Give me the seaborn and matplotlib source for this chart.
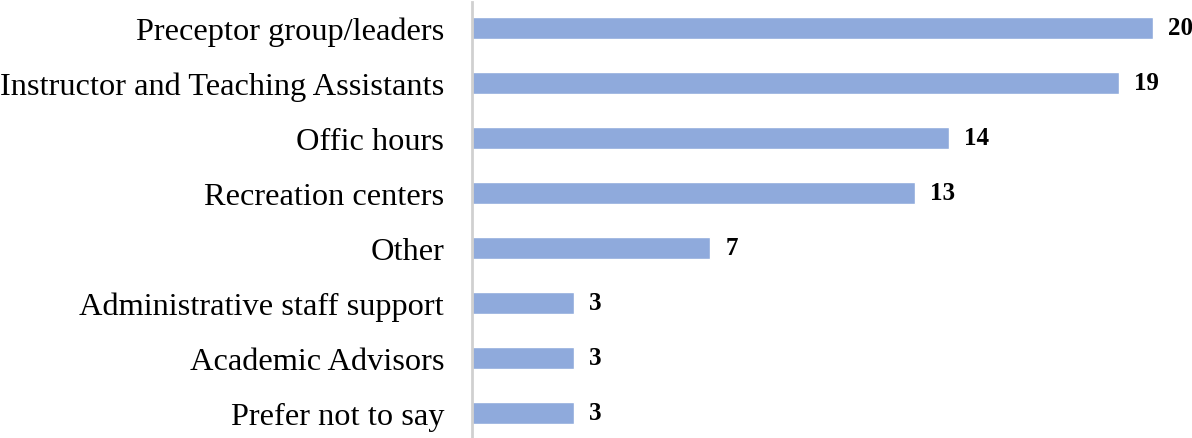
import matplotlib
matplotlib.use("Agg")
import matplotlib.pyplot as plt
import seaborn as sns
import pandas as pd

categories = [
    "Preceptor group/leaders",
    "Instructor and Teaching Assistants",
    "Offic hours",
    "Recreation centers",
    "Other",
    "Administrative staff support",
    "Academic Advisors",
    "Prefer not to say",
]
counts = [20, 19, 14, 13, 7, 3, 3, 3]

df = pd.DataFrame({"category": categories, "count": counts})

sns.set_style("white")
plt.rcParams["font.family"] = ["Liberation Serif", "DejaVu Serif"]
plt.rcParams["text.color"] = "black"
plt.rcParams["ytick.color"] = "black"

fig = plt.figure(figsize=(11.92, 4.39), dpi=100)
ax = fig.add_axes([472 / 1192, 0.0, (1187 - 472) / 1192, 1.0])

sns.barplot(data=df, x="count", y="category", orient="h", color="#8FAADC",
            saturation=1, width=0.4, ax=ax)

ax.set_xlim(0, 21)
ax.set_ylim(7.455, -0.527)
ax.set_xlabel("")
ax.set_ylabel("")
ax.set_xticks([])
ax.tick_params(axis="y", length=0, pad=20, labelsize=23.3, labelcolor="black")

for s in ["top", "right", "bottom"]:
    ax.spines[s].set_visible(False)
ax.spines["left"].set_color("#D0D0D0")
ax.spines["left"].set_linewidth(2)
ax.spines["left"].set_bounds(7.45, -0.47)

for container in ax.containers:
    ax.bar_label(container, labels=[str(v) for v in counts], padding=11,
                 fontsize=18, fontweight="bold", color="black")

fig.savefig("out.png", dpi=100)
